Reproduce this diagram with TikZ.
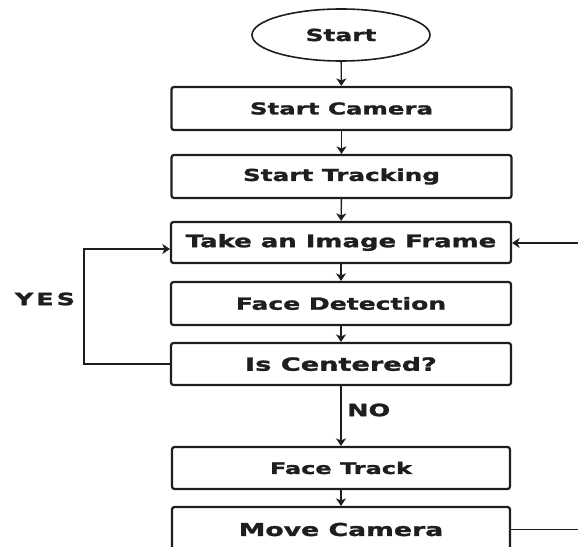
\documentclass[tikz,border=0pt]{standalone}
\usepackage{fontspec}
\newfontfamily\lbl{DejaVu Sans Bold}[FakeStretch=1.5,FakeBold=1.6]
\usetikzlibrary{arrows.meta,shapes.geometric}
\definecolor{ink}{HTML}{1E1E1E}
\newcommand{\fs}[1]{\fontsize{#1bp}{#1bp}\selectfont}
\tikzset{
  box/.style={draw=ink, line width=2.2bp, rounded corners=2.5bp, minimum width=340bp, minimum height=43bp, inner sep=0pt, text=ink, font=\lbl},
  oval/.style={draw=ink, line width=1.6bp, ellipse, minimum width=178bp, minimum height=52bp, inner sep=0pt, text=ink, font=\lbl},
  conn/.style={draw=ink, line width=1.4bp},
  arr/.style={conn, -{Stealth[length=7.5bp,width=10bp,inset=2bp]}},
  lab/.style={text=ink, font=\lbl, inner sep=0pt}
}
\begin{document}
\begin{tikzpicture}[x=1bp,y=-1bp]
\useasboundingbox (0,0) rectangle (578,547);
\clip (0,0) rectangle (578,547);
\node[oval] (start) at (341,35) {\fs{16.6}Start};
\node[box] (cam) at (341.5,108.5) {\fs{16.3}Start Camera};
\node[box] (trk) at (341.5,176.5) {\fs{16.5}Start Tracking};
\node[box, minimum height=41bp] (take) at (341,242.5) {\fs{17.3}Take an Image Frame};
\node[box] (fd) at (341,303.5) {\fs{16.7}Face Detection};
\node[box, minimum height=42bp] (ic) at (341,364) {\fs{18.1}Is Centered?};
\node[box, minimum width=338bp, minimum height=42bp] (ft) at (341,468) {\fs{16}Face Track};
\node[box, minimum width=338bp, minimum height=45bp] (mc) at (341,529.5) {\fs{17.8}Move Camera};
\node[lab] (yes) at (45,299) {\fs{16.9}Y\kern3bp E\kern3bp S};
\node[lab, anchor=west] (no) at (347,410) {\fs{17}NO};
\coordinate (loopl) at (84,0);
\coordinate (rin) at (578,243);
\coordinate (rout) at (578,529.5);
\draw[arr] (start) -- (cam);
\draw[arr] (cam) -- (trk);
\draw[arr] (trk) -- (take);
\draw[arr] (take) -- (fd);
\draw[arr] (fd) -- (ic);
\draw[arr] (ic) -- (ft);
\draw[arr] (ft) -- (mc);
\draw[arr] (ic.west) -- (ic.west -| loopl) -- ([yshift=-6.5bp]take.west -| loopl) -- ([yshift=-6.5bp]take.west);
\draw[arr] (rin) -- (rin -| take.east);
\draw[conn] (mc.east) -- (rout);
\end{tikzpicture}
\end{document}
